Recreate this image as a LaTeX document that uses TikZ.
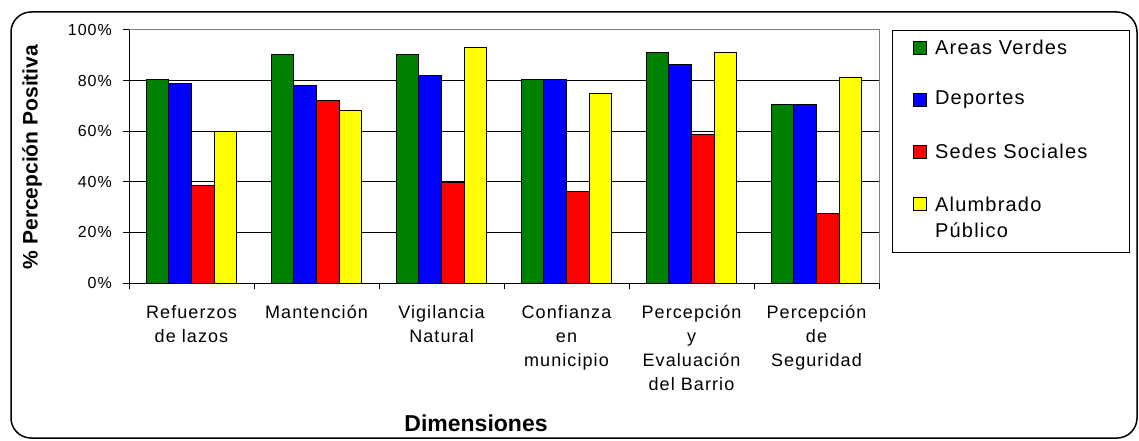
\documentclass[tikz,border=0pt]{standalone}
\usepackage{fontspec}
\setmainfont{Liberation Sans}
\newfontfamily\labelfont[LetterSpace=6]{Liberation Sans}
\usetikzlibrary{positioning}
\definecolor{areas}{RGB}{0,128,0}
\definecolor{deportes}{RGB}{0,0,255}
\definecolor{sedes}{RGB}{255,0,0}
\definecolor{alumbrado}{RGB}{255,255,0}
\definecolor{borde}{RGB}{128,128,128}
\tikzset{every bar/.style={draw=black, line width=1pt},
tick label/.style={font=\labelfont\fontsize{16}{19}\selectfont, anchor=east, inner sep=0pt},
cat label/.style={font=\labelfont\fontsize{18}{24}\selectfont, align=center, anchor=north, inner sep=0pt},
axis title/.style={font=\bfseries\fontsize{21}{24}\selectfont, inner sep=0pt},
legend key/.style={draw=black, line width=0.8pt, minimum width=13pt, minimum height=13pt, inner sep=0pt},
legend text/.style={font=\labelfont\fontsize{20}{26}\selectfont, align=left, inner sep=0pt}
}

\begin{document}
\begin{tikzpicture}[x=1pt, y=-1pt]
  \useasboundingbox (0,0) rectangle (1139,441);
  \draw[line width=1.5pt, rounded corners=20pt] (11,12) rectangle (1137,438);

  % gridlines and plot border
  \foreach \p in {20,40,60,80}
    \draw[line width=0.9pt] (129,{283-2.53*\p}) -- (879,{283-2.53*\p});
  \draw[borde, line width=1pt] (129,30) -- (879,30) -- (879,283);

  % bars: Areas Verdes / Deportes / Sedes Sociales / Alumbrado Publico
  \foreach \a/\b/\c/\d [count=\k from 0] in {80.6/79/38.7/60, 90.4/77.9/72.3/68,
      90.4/81.9/39.8/93, 80.4/80.4/36/75, 91/86.3/58.5/91, 70.7/70.7/27.6/81.2}{
    \foreach \v/\col [count=\j from 0] in {\a/areas, \b/deportes, \c/sedes, \d/alumbrado}
      \filldraw[every bar, fill=\col] ({146+125*\k+22.73*\j},283)
        rectangle ({146+125*\k+22.73*(\j+1)},{283-2.53*\v});
  }

  % axes
  \draw[line width=1pt] (129,30) -- (129,283) -- (879,283);
  \foreach \p in {0,20,...,100}{
    \draw[line width=1pt] (123,{283-2.53*\p}) -- (129,{283-2.53*\p});
    \node[tick label] (y\p) at (112,{283-2.53*\p}) {\p\%};
  }
  \foreach \k in {0,...,6}
    \draw[line width=1pt] ({129+125*\k},283) -- ({129+125*\k},289);

  \node[cat label] (c1) at (191.5,305) {Refuerzos\\de lazos};
  \node[cat label] (c2) at (316.5,305) {Mantención};
  \node[cat label] (c3) at (441.5,305) {Vigilancia\\Natural};
  \node[cat label] (c4) at (566.5,305) {Confianza\\en\\municipio};
  \node[cat label] (c5) at (691.5,305) {Percepción\\y\\Evaluación\\del Barrio};
  \node[cat label] (c6) at (816.5,305) {Percepción\\de\\Seguridad};

  \node[axis title, font=\bfseries\fontsize{23}{26}\selectfont] (xtitle) at (476,423) {Dimensiones};
  \node[axis title, rotate=90] (ytitle) at (32,157) {\% Percepción Positiva};

  % legend
  \draw[line width=1pt] (892,31) rectangle (1129,252);
  \node[legend key, fill=areas]     (kA) at (920,47.5)  {};
  \node[legend key, fill=deportes]  (kB) at (920,99.5)  {};
  \node[legend key, fill=sedes]     (kC) at (920,151.5) {};
  \node[legend key, fill=alumbrado] (kD) at (920,203.5) {};
  \node[legend text, right=8pt of kA] (tA) {Areas Verdes};
  \node[legend text, right=8pt of kB] (tB) {Deportes};
  \node[legend text, right=8pt of kC] (tC) {Sedes Sociales};
  \node[legend text, anchor=north west] (tD) at ([xshift=8pt, yshift=7pt]kD.east) {Alumbrado\\Público};
\end{tikzpicture}
\end{document}
